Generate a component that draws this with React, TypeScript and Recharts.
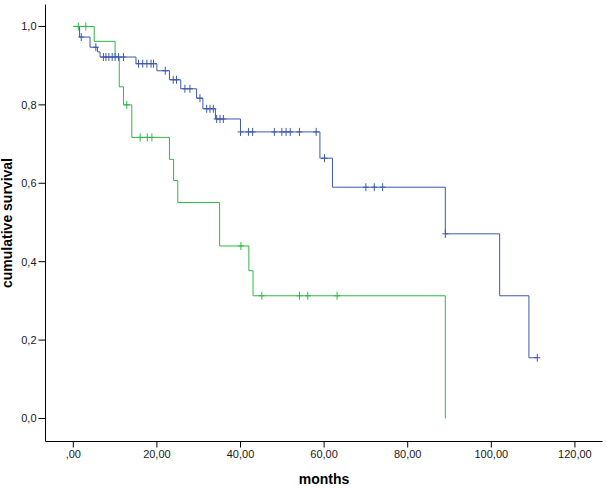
import { ComposedChart, Line, Scatter, XAxis, YAxis } from "recharts";

const xTicks = [0, 20, 40, 60, 80, 100, 120];
const yTicks = [0, 0.2, 0.4, 0.6, 0.8, 1.0];

// group 1 (blue): step times and survival after each step
const blueTimes = [0, 1.5, 4, 5.8, 6.4, 15, 20, 23, 25.7, 29.5, 31, 34, 40, 59, 62, 89, 102, 109, 111];
const blueSurv = [1, 0.973, 0.947, 0.935, 0.922, 0.905, 0.887, 0.864, 0.841, 0.817, 0.79, 0.764, 0.731, 0.664, 0.59, 0.471, 0.313, 0.155, 0.155];
const blueCensored = [1.9, 5.4, 7.2, 7.8, 8.5, 9.3, 10.0, 10.8, 12.0, 15.6, 16.6, 17.6, 18.6, 19.2, 22.0, 23.9, 24.7, 26.7, 27.9, 30.3, 31.9, 32.7, 33.5, 34.3, 35.1, 35.9, 40.0, 41.9, 42.9, 48.1, 49.9, 50.9, 51.9, 54.1, 58.1, 60.1, 70, 72, 74, 89, 111];

// group 2 (green)
const greenTimes = [0, 5, 10, 11, 12, 14, 23, 24, 25, 35, 42, 43, 89];
const greenSurv = [1, 0.962, 0.923, 0.846, 0.8, 0.717, 0.661, 0.607, 0.551, 0.44, 0.377, 0.313, 0];
const greenCensored = [1.2, 3.0, 12.8, 16.0, 17.7, 18.8, 40.1, 45.1, 54.1, 56.1, 63.1];

const BLUE = "#3e58ac";
const GREEN = "#2eb848";

const toSteps = (times: number[], surv: number[]) => times.map((t, i) => ({ t, s: surv[i] }));

// place censor marks on the curve
const onCurve = (cens: number[], times: number[], surv: number[]) =>
  cens.map((t) => {
    let idx = 0;
    times.forEach((tt, i) => {
      if (tt <= t) idx = i;
    });
    return { t, s: surv[idx] };
  });

const blueLine = toSteps(blueTimes, blueSurv);
const greenLine = toSteps(greenTimes, greenSurv);
const blueMarks = onCurve(blueCensored, blueTimes, blueSurv);
const greenMarks = onCurve(greenCensored, greenTimes, greenSurv);

const censorShape = (color: string) => (props: any) => {
  const { cx, cy } = props;
  return (
    <path
      d={`M${cx - 3},${cy}h6M${cx},${cy - 4}v8`}
      stroke={color}
      strokeWidth={1}
      fill="none"
    />
  );
};

const xFmt = (v: number) => (v === 0 ? ",00" : `${v},00`);
const yFmt = (v: number) => v.toFixed(1).replace(".", ",");

const tickStyle = { fill: "#1a1a1a", fontSize: 11, fontFamily: "Liberation Sans, Arial, sans-serif" };

export default function App() {
  return (
    <div style={{ position: "absolute", left: 0, top: 0, background: "#fff" }}>
      <ComposedChart
        width={608}
        height={488}
        margin={{ top: 4.5, right: 5.5, bottom: 0, left: 0.5 }}
      >
        <XAxis
          dataKey="t"
          type="number"
          domain={[-6.65, 126.6]}
          ticks={xTicks}
          tickFormatter={xFmt}
          tick={tickStyle}
          tickSize={6}
          tickMargin={3}
          height={46.5}
          axisLine={{ stroke: "#000" }}
          tickLine={{ stroke: "#000" }}
          allowDataOverflow
          label={{
            value: "months",
            position: "insideBottom",
            offset: 4,
            style: { fontSize: 14, fontWeight: "bold", fill: "#000", fontFamily: "Liberation Sans, Arial, sans-serif" },
          }}
        />
        <XAxis
          xAxisId="top"
          orientation="top"
          dataKey="t"
          type="number"
          domain={[-6.65, 126.6]}
          height={0}
          tick={false}
          tickLine={false}
          axisLine={{ stroke: "#666" }}
        />
        <YAxis
          type="number"
          domain={[-0.0587, 1.056]}
          ticks={yTicks}
          tickFormatter={yFmt}
          tick={tickStyle}
          tickSize={7}
          tickMargin={2}
          width={45}
          axisLine={{ stroke: "#000" }}
          tickLine={{ stroke: "#000" }}
          allowDataOverflow
          label={{
            value: "cumulative survival",
            angle: -90,
            position: "insideLeft",
            offset: 7,
            style: { textAnchor: "middle", fontSize: 14, fontWeight: "bold", fill: "#000", fontFamily: "Liberation Sans, Arial, sans-serif" },
          }}
        />
        <YAxis
          yAxisId="right"
          orientation="right"
          type="number"
          domain={[-0.0587, 1.056]}
          width={0}
          tick={false}
          tickLine={false}
          axisLine={{ stroke: "#333" }}
        />
        <Line
          data={blueLine}
          dataKey="s"
          type="stepAfter"
          stroke={BLUE}
          strokeWidth={1}
          dot={false}
          isAnimationActive={false}
        />
        <Scatter
          data={blueMarks}
          dataKey="s"
          shape={censorShape(BLUE)}
          isAnimationActive={false}
        />
        <Line
          data={greenLine}
          dataKey="s"
          type="stepAfter"
          stroke={GREEN}
          strokeWidth={1}
          dot={false}
          isAnimationActive={false}
        />
        <Scatter
          data={greenMarks}
          dataKey="s"
          shape={censorShape(GREEN)}
          isAnimationActive={false}
        />
      </ComposedChart>
    </div>
  );
}
